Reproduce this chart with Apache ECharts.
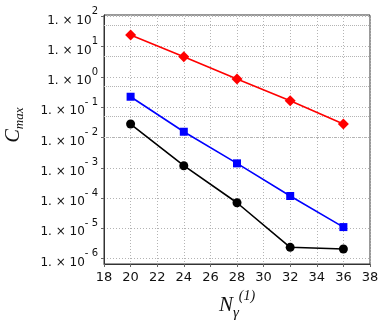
<!DOCTYPE html>
<html><head><meta charset="utf-8">
<script src="https://cdn.jsdelivr.net/npm/echarts@6/dist/echarts.min.js"></script>
<style>html,body{margin:0;padding:0;background:#fff}#c{width:382px;height:327px}</style>
</head><body><div id="c"></div>
<script>
const nGamma = [20, 24, 28, 32, 36];
const redSeries = [24.3, 4.66, 0.855, 0.164, 0.0279];
const blueSeries = [0.222, 0.0155, 1.40e-3, 1.17e-4, 1.10e-5];
const blackSeries = [0.0279, 1.17e-3, 7.0e-5, 2.36e-6, 2.07e-6];
const xTicks = [18, 20, 22, 24, 26, 28, 30, 32, 34, 36, 38];
const yExtentExp = [-6.178, 2.046];
const minorGridValues = [5e-6, 5e-5, 5e-4, 5e-3, 5e-2, 5e-1, 5e0, 5e1];

const chart = echarts.init(document.getElementById('c'), null, {renderer: 'canvas'});
const pairs = ys => nGamma.map((x, i) => [x, ys[i]]);
const gridLine = {color: '#b4b4b4', type: [1, 2], width: 1};
const yMin = Math.pow(10, yExtentExp[0]), yMax = Math.pow(10, yExtentExp[1]);
chart.setOption({
  animation: false,
  backgroundColor: '#fff',
  grid: {left: 104, right: 12, top: 15, bottom: 63, containLabel: false, outerBoundsMode: 'none', show: true, borderColor: '#333', borderWidth: 1, backgroundColor: 'transparent'},
  xAxis: {
    type: 'value', min: xTicks[0], max: xTicks[xTicks.length - 1], interval: 2,
    axisLine: {lineStyle: {color: '#333'}},
    axisTick: {show: true, inside: false, length: 3, lineStyle: {color: '#666'}},
    axisLabel: {color: '#111', fontFamily: 'DejaVu Sans', fontSize: 13, margin: 7},
    splitLine: {show: true, lineStyle: gridLine},
    name: '{n|N}{g|γ}{p|(1)}', nameLocation: 'middle', nameGap: 25,
    nameTextStyle: {rich: {
      n: {fontFamily: 'Liberation Serif', fontStyle: 'italic', fontSize: 21, color: '#111', verticalAlign: 'middle', lineHeight: 32},
      g: {fontFamily: 'Liberation Serif', fontStyle: 'italic', fontSize: 15, color: '#111', verticalAlign: 'bottom', lineHeight: 12},
      p: {fontFamily: 'Liberation Serif', fontStyle: 'italic', fontSize: 14, color: '#111', verticalAlign: 'top', lineHeight: 16}
    }}
  },
  yAxis: [{
    type: 'log', logBase: 10, min: yMin, max: yMax, splitNumber: 8,
    axisLine: {show: true, lineStyle: {color: '#333'}},
    axisTick: {show: true, inside: false, length: 3, lineStyle: {color: '#666'}},
    axisLabel: {
      showMinLabel: false, showMaxLabel: false, margin: 6,
      formatter: v => { const n = Math.round(Math.log10(v)); return '{b|1. × 10}{s|' + (n < 0 ? '- ' + (-n) : n) + '}'; },
      rich: {
        b: {fontFamily: 'DejaVu Sans', fontSize: 12, color: '#111', verticalAlign: 'bottom', lineHeight: 20},
        s: {fontFamily: 'DejaVu Sans', fontSize: 10, color: '#111', verticalAlign: 'top', lineHeight: 11}
      }
    },
    splitLine: {show: true, lineStyle: gridLine},
    name: '{c|C}{m|max}', nameLocation: 'middle', nameGap: 78, nameRotate: 90,
    nameTextStyle: {padding: [0, 0, 0, 29], rich: {
      c: {fontFamily: 'Liberation Serif', fontStyle: 'italic', fontSize: 20, color: '#111', verticalAlign: 'top', lineHeight: 22},
      m: {fontFamily: 'Liberation Serif', fontStyle: 'italic', fontSize: 13, color: '#111', verticalAlign: 'bottom', lineHeight: 13}
    }}
  }],
  series: [
    {type: 'line', name: 'grid', data: pairs(redSeries), z: 1, silent: true, showSymbol: false, symbol: 'none',
     lineStyle: {opacity: 0}, tooltip: {show: false},
     markLine: {silent: true, z: 2, symbol: ['none', 'none'], label: {show: false}, lineStyle: {color: '#b4b4b4', type: 'dotted', width: 1}, data: minorGridValues.map(v => ({yAxis: v}))}},
    {type: 'line', data: pairs(redSeries), symbol: 'diamond', symbolSize: 11, color: '#ff0000', z: 6, lineStyle: {width: 1.6, color: '#ff0000'}, itemStyle: {color: '#ff0000'}},
    {type: 'line', data: pairs(blueSeries), symbol: 'rect', symbolSize: 8, color: '#0000ff', z: 6, lineStyle: {width: 1.6, color: '#0000ff'}, itemStyle: {color: '#0000ff'}},
    {type: 'line', data: pairs(blackSeries), symbol: 'circle', symbolSize: 9, color: '#000', z: 6, lineStyle: {width: 1.6, color: '#000'}, itemStyle: {color: '#000'}}
  ]
});
</script></body></html>
